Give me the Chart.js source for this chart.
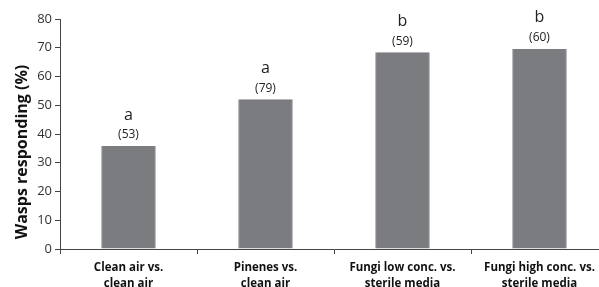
<!DOCTYPE html>
<html>
<head>
<meta charset="utf-8">
<script src="https://cdn.jsdelivr.net/npm/chart.js@4/dist/chart.umd.min.js"></script>
<style>
  html, body { margin: 0; padding: 0; background: #fff; overflow: hidden; }
  #grafico { display: block; }
</style>
</head>
<body>
<canvas id="grafico" width="610" height="287"></canvas>
<script>
// datos
const categorias = [
  ["Clean air vs.", "clean air"],
  ["Pinenes vs.", "clean air"],
  ["Fungi low conc. vs.", "sterile media"],
  ["Fungi high conc. vs.", "sterile media"],
];
const porcentajes = [35.8, 52.1, 68.4, 69.6];
const letras = ["a", "a", "b", "b"];
const cantidades = ["(53)", "(79)", "(59)", "(60)"];
const ticksY = [0, 10, 20, 30, 40, 50, 60, 70, 80];
const tituloY = "Wasps responding (%)";

const fuente = "'Open Sans', 'Liberation Sans', sans-serif";

// plugin para escribir la letra y el n arriba de cada barra (y el titulo del eje y)
const etiquetas = {
  id: "etiquetas",
  afterDatasetsDraw(chart) {
    const ctx = chart.ctx;
    const barras = chart.getDatasetMeta(0).data;
    ctx.save();
    ctx.fillStyle = "#222";
    ctx.textAlign = "center";
    ctx.textBaseline = "middle";
    barras.forEach((b, i) => {
      ctx.font = `12px ${fuente}`;
      ctx.fillText(cantidades[i], b.x, b.y - 11);
      ctx.font = `16px ${fuente}`;
      ctx.fillText(letras[i], b.x, b.y - 31);
    });

    // titulo del eje y, un poco corrido hacia abajo como en el original
    const area = chart.chartArea;
    ctx.translate(22, (area.top + area.bottom) / 2 + 18);
    ctx.rotate(-Math.PI / 2);
    ctx.fillStyle = "#111";
    ctx.font = `bold 16px ${fuente}`;
    ctx.fillText(tituloY, 0, 0);
    ctx.restore();
  },
};

new Chart(document.getElementById("grafico"), {
  type: "bar",
  data: {
    labels: categorias,
    datasets: [
      {
        data: porcentajes,
        backgroundColor: "#7b7c80",
        borderColor: "#a9aaad",
        borderWidth: { left: 1, right: 1, top: 0, bottom: 0 },
        categoryPercentage: 1,
        barPercentage: 0.4,
      },
    ],
  },
  options: {
    responsive: false,
    animation: false,
    layout: { padding: { top: 19, right: 2, left: 0, bottom: 0 } },
    plugins: { legend: { display: false }, tooltip: { enabled: false } },
    scales: {
      x: {
        afterFit: (s) => { s.height = 38; },
        grid: {
          drawOnChartArea: false,
          color: "#444",
          tickLength: 5,
          offset: true,
        },
        border: { color: "#444", width: 1 },
        ticks: {
          color: "#111",
          font: { family: fuente, size: 11.5, weight: "bold", lineHeight: 1.35 },
          padding: 6,
          maxRotation: 0,
          autoSkip: false,
        },
      },
      y: {
        min: 0,
        max: 80,
        afterFit: (s) => { s.width = 60; },
        afterBuildTicks: (s) => { s.ticks = ticksY.map((v) => ({ value: v })); },
        grid: { drawOnChartArea: false, color: "#444", tickLength: 5 },
        border: { color: "#444", width: 1 },
        ticks: {
          color: "#333",
          font: { family: fuente, size: 13 },
          padding: 3,
        },
      },
    },
  },
  plugins: [etiquetas],
});
</script>
</body>
</html>
